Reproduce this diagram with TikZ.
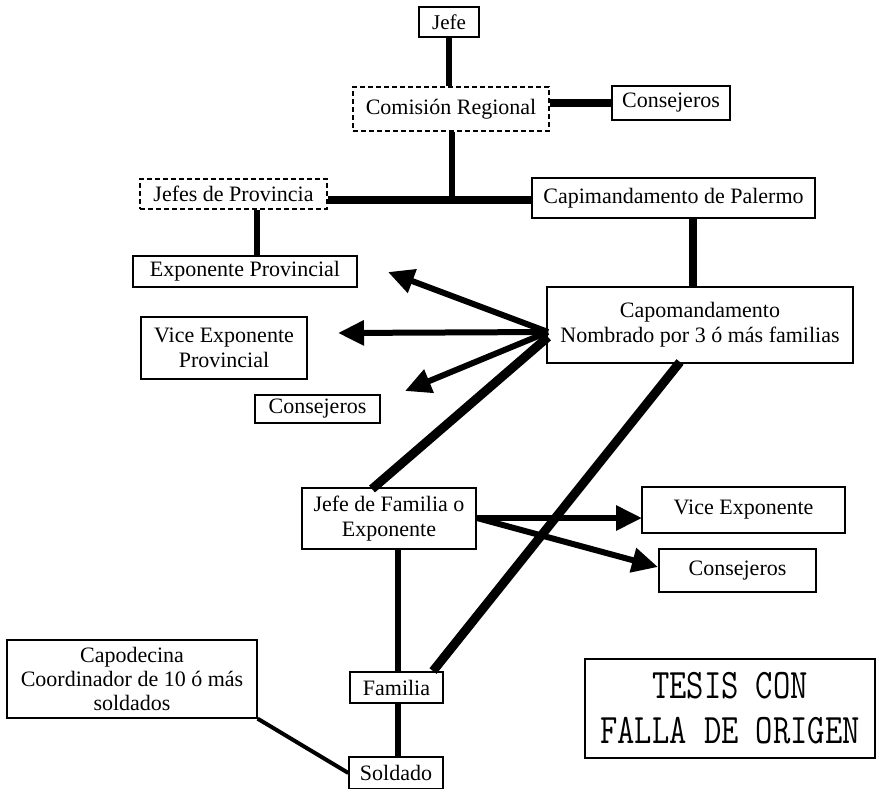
\documentclass[tikz,border=0pt]{standalone}
\usepackage{fontspec}
\setmainfont{Liberation Serif}
\usetikzlibrary{arrows.meta}
\begin{document}
\begin{tikzpicture}[x=1pt,y=-1pt,
  bx/.style={draw, line width=1.3pt, inner sep=0pt, align=center,
    font=\fontsize{22}{25}\selectfont},
  dbx/.style={bx, dash pattern=on 5pt off 3pt},
  conn/.style={line width=8pt},
  heavy/.style={line width=9pt},
  thinconn/.style={line width=6pt},
  arr/.style={line width=6pt, -{Triangle[length=26pt,width=24pt]}}]
\useasboundingbox[fill=white] (0,0) rectangle (885,788);
% nodes
\node[bx, minimum width=60pt, minimum height=30pt, font=\fontsize{21}{24}\selectfont] (jefe) at (449,22) {Jefe};
\node[dbx, minimum width=196pt, minimum height=44pt] (comision) at (451,109) {Comisión Regional};
\node[bx, minimum width=118pt, minimum height=34pt] (cons1) at (671,103) {Consejeros};
\node[dbx, minimum width=187pt, minimum height=30pt] (jefesprov) at (233.5,194) {Jefes de Provincia};
\node[bx, minimum width=283pt, minimum height=40pt] (capim) at (673.5,198) {Capimandamento de Palermo};
\node[bx, minimum width=224pt, minimum height=31pt] (expprov) at (245,271.5) {Exponente Provincial};
\node[bx, minimum width=306pt, minimum height=76pt] (capo) at (700,325) {Capomandamento\\Nombrado por 3 ó más familias};
\node[bx, minimum width=166pt, minimum height=62pt] (viceprov) at (224,348) {Vice Exponente\\Provincial};
\node[bx, minimum width=125pt, minimum height=28pt] (cons2) at (317.5,409) {Consejeros};
\node[bx, minimum width=174pt, minimum height=61pt] (jfam) at (389,518.5) {Jefe de Familia o\\Exponente};
\node[bx, minimum width=203pt, minimum height=46pt] (vice) at (743.5,510) {Vice Exponente};
\node[bx, minimum width=157pt, minimum height=43pt] (cons3) at (737.5,570.5) {Consejeros};
\node[bx, minimum width=250pt, minimum height=78pt, font=\fontsize{22}{24}\selectfont] (capod) at (132,679) {Capodecina\\Coordinador de 10 ó más\\soldados};
\node[bx, minimum width=93pt, minimum height=31pt] (familia) at (396.5,687.5) {Familia};
\node[bx, minimum width=94pt, minimum height=32pt] (soldado) at (396,773) {Soldado};
\node[draw, line width=1.8pt, minimum width=290pt, minimum height=99pt, inner sep=0pt, align=center,
  font=\fontsize{42}{45}\ttfamily\selectfont] (tesis) at (730,708.5)
  {\scalebox{0.8}[1]{TESIS CON}\\\scalebox{0.8}[1]{FALLA DE ORIGEN}};
% helper coordinates
\coordinate (j1) at (452,200);
\coordinate (ep) at (257,0);
\coordinate (cc) at (693,0);
\coordinate (fx) at (398,0);
\coordinate (hub) at (548,332);
\coordinate (hubb) at (548,337);
\coordinate (t1) at (388,272);
\coordinate (t2) at (338,333);
\coordinate (t3) at (405,391);
\coordinate (jt) at (372,489);
\coordinate (cb) at (680,362);
\coordinate (ft) at (433,671);
\coordinate (js) at (477,518);
\coordinate (t4) at (642,518);
\coordinate (t5) at (658,567);
% connectors
\draw[thinconn] (jefe.south) -- (jefe.south |- comision.north);
\draw[conn] (cons1.west -| comision.east) -- (cons1.west);
\draw[thinconn] (j1 |- comision.south) -- (j1);
\draw[conn] (jefesprov.east |- j1) -- (capim.west |- j1);
\draw[thinconn] (ep |- jefesprov.south) -- (ep |- expprov.north);
\draw[conn] (cc |- capim.south) -- (cc |- capo.north);
\draw[arr] (hub) -- (t1);
\draw[arr] (hub) -- (t2);
\draw[arr] (hub) -- (t3);
\draw[heavy] (hubb) -- (jt);
\draw[heavy] (cb) -- (ft);
\draw[arr] (js) -- (t4);
\draw[arr] (js) -- (t5);
\draw[thinconn] (fx |- jfam.south) -- (fx |- familia.north);
\draw[thinconn] (fx |- familia.south) -- (fx |- soldado.north);
\draw[line width=4pt] (capod.south east) -- (soldado.west);
\end{tikzpicture}
\end{document}
